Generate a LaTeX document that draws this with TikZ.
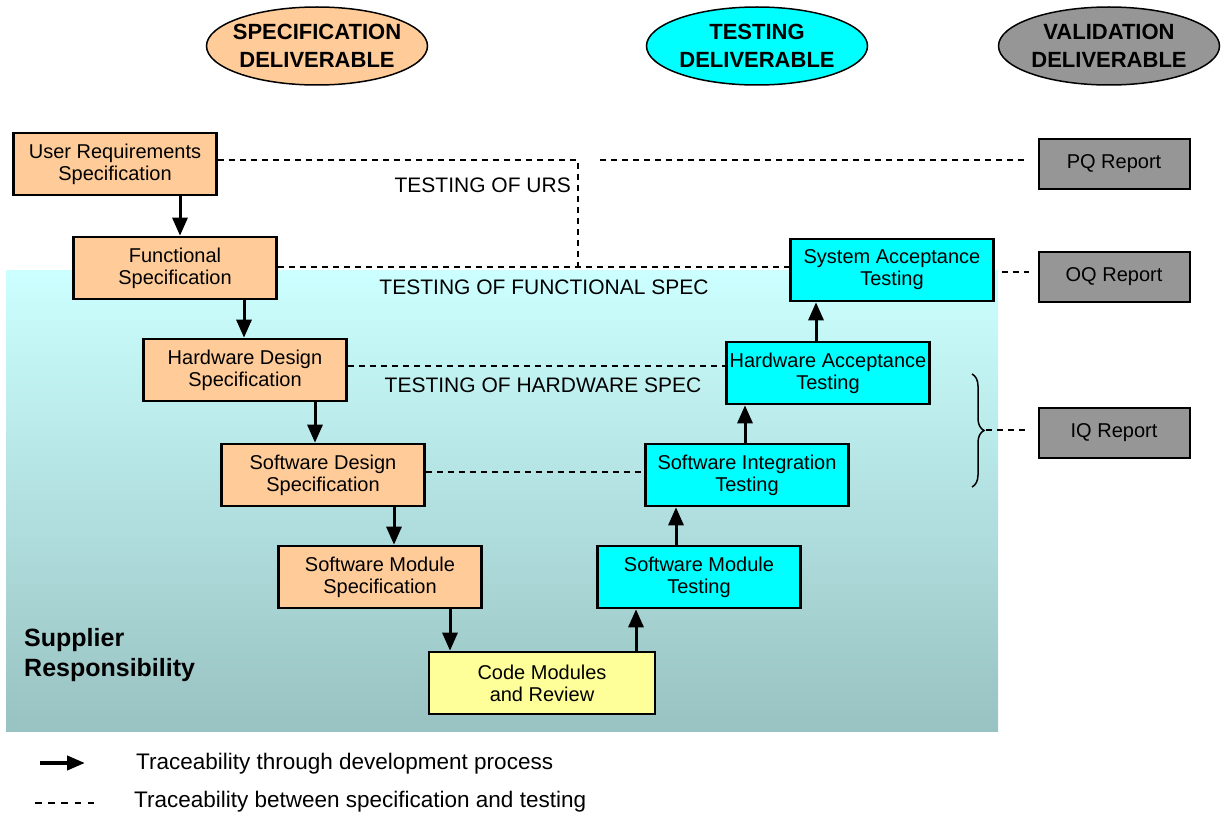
\documentclass[tikz,border=0pt]{standalone}
\usepackage{fontspec}
\setmainfont{Liberation Sans}
\usetikzlibrary{arrows.meta,shapes.geometric,decorations.pathreplacing}

\definecolor{specorange}{RGB}{255,204,153}
\definecolor{testcyan}{RGB}{0,255,255}
\definecolor{valgray}{RGB}{150,150,150}
\definecolor{codeyellow}{RGB}{255,255,153}
\definecolor{bgtop}{RGB}{204,255,255}
\definecolor{bgbottom}{RGB}{153,194,194}

\tikzset{
  specbox/.style={draw, line width=2.6pt, fill=specorange, minimum width=203pt,
    minimum height=62pt, inner sep=0pt, align=center,
    font=\fontsize{20}{22}\selectfont},
  testbox/.style={specbox, fill=testcyan},
  codebox/.style={specbox, fill=codeyellow, minimum width=226pt},
  reportbox/.style={draw, line width=2pt, fill=valgray, minimum width=151pt,
    minimum height=50pt, inner sep=0pt, font=\fontsize{20}{22}\selectfont},
  deliv/.style={ellipse, draw, line width=1.5pt, minimum width=221pt,
    minimum height=78pt, inner sep=0pt},
  delivtext/.style={align=center, inner sep=0pt,
    font=\bfseries\fontsize{22}{28}\selectfont},
  trace/.style={line width=3pt, -{Triangle[length=18pt,width=15pt]}},
  link/.style={line width=1.5pt, dash pattern=on 6pt off 5pt},
  testlabel/.style={inner sep=0pt, font=\fontsize{21}{24}\selectfont},
  legendtext/.style={anchor=west, inner sep=0pt, font=\fontsize{22.5}{24}\selectfont}
}

\begin{document}
\begin{tikzpicture}[x=1pt, y=-1pt]
    \useasboundingbox (0,0) rectangle (1227,818);

    % 1) Shaded supplier area
    \shade[top color=bgtop, bottom color=bgbottom] (6,271) rectangle (998,731);
    \node[anchor=west, align=left, inner sep=0pt,
          font=\bfseries\fontsize{25}{30}\selectfont] (supplier) at (24,655)
          {Supplier\\Responsibility};

    % 2) Deliverable ellipses
    \node[deliv, fill=specorange] (specdel) at (317,46) {};
    \node[delivtext] at (specdel) {SPECIFICATION\\DELIVERABLE};
    \node[deliv, fill=testcyan] (testdel) at (757,46) {};
    \node[delivtext] at (testdel) {TESTING\\DELIVERABLE};
    \node[deliv, fill=valgray] (valdel) at (1109,46) {};
    \node[delivtext] at (valdel) {VALIDATION\\DELIVERABLE};

    % 3) Specification side
    \node[specbox] (urs) at (115,164) {User Requirements\\Specification};
    \node[specbox] (fs)  at (175,268) {Functional\\Specification};
    \node[specbox] (hds) at (245,370) {Hardware Design\\Specification};
    \node[specbox] (sds) at (323,475) {Software Design\\Specification};
    \node[specbox] (sms) at (380,577) {Software Module\\Specification};
    \node[codebox] (code) at (542,683) {Code Modules\\and Review};

    % 4) Testing side
    \node[testbox] (smt) at (699,577) {Software Module\\Testing};
    \node[testbox] (sit) at (747,475) {Software Integration\\Testing};
    \node[testbox] (hat) at (828,373) {Hardware Acceptance\\Testing};
    \node[testbox] (sat) at (892,270) {System Acceptance\\Testing};

    % 5) Validation reports
    \node[reportbox] (pq) at (1114,164) {PQ Report};
    \node[reportbox] (oq) at (1114,277) {OQ Report};
    \node[reportbox] (iq) at (1114,433) {IQ Report};

    % 6) Traceability arrows, down then up
    \foreach \a/\b/\x in {urs/fs/180, fs/hds/244, hds/sds/315, sds/sms/394, sms/code/450}
      \draw[trace] (\a.south -| \x,0) -- (\b.north -| \x,0);
    \foreach \a/\b/\x in {code/smt/636, smt/sit/676, sit/hat/745, hat/sat/816}
      \draw[trace] (\a.north -| \x,0) -- (\b.south -| \x,0);

    % 7) Dashed links between specification and testing
    \coordinate (urscorner) at (578,160);
    \coordinate (ursdrop) at (578,267);
    \coordinate (pqstart) at (600,160);
    \draw[link] ([yshift=4pt]urs.east) -- (urscorner) -- (ursdrop);
    \draw[link] (pqstart) -- ([xshift=-11pt]pqstart -| pq.west);
    \draw[link] ([yshift=1pt]fs.east) -- ([yshift=1pt]fs.east -| sat.west);
    \draw[link] ([yshift=4pt]hds.east) -- ([yshift=4pt]hds.east -| hat.west);
    \draw[link] ([yshift=3pt]sds.east) -- ([yshift=3pt]sds.east -| sit.west);
    \draw[link] ([xshift=7pt,yshift=-2pt]sat.east) -- ([xshift=-9pt,yshift=-2pt]sat.east -| oq.west);

    \node[testlabel, anchor=east] (ursl) at (571,185) {TESTING OF URS};
    \node[testlabel] (fsl) at (544,287) {TESTING OF FUNCTIONAL SPEC};
    \node[testlabel] (hdsl) at (543,385) {TESTING OF HARDWARE SPEC};

    % 8) Brace over the hardware and software tests
    \draw[line width=1.5pt, decorate, decoration={brace, amplitude=12pt}]
      (972,374) -- (972,487);
    \coordinate (bracetip) at (986,430);
    \draw[link] (bracetip) -- ([xshift=-9pt]bracetip -| iq.west);

    % 9) Legend
    \coordinate (legarrowa) at (40,763);
    \coordinate (legarrowb) at (85,763);
    \coordinate (legdasha) at (35,803);
    \coordinate (legdashb) at (95,803);
    \draw[line width=4pt, -{Triangle[length=18pt,width=14pt]}] (legarrowa) -- (legarrowb);
    \draw[line width=1.5pt, dash pattern=on 6.5pt off 6.7pt] (legdasha) -- (legdashb);
    \node[legendtext] (legone) at (136,764) {Traceability through development process};
    \node[legendtext] (legtwo) at (134,802) {Traceability between specification and testing};
\end{tikzpicture}
\end{document}
